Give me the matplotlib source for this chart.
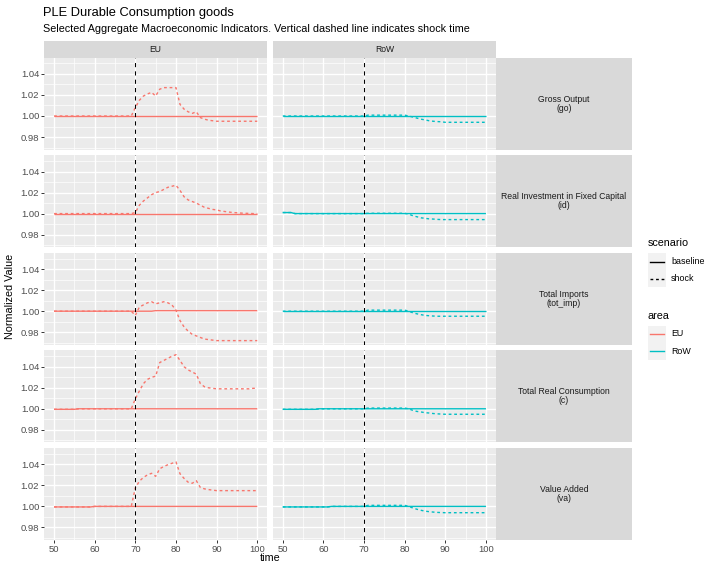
import matplotlib
matplotlib.use("Agg")
import matplotlib.pyplot as plt
import numpy as np

plt.rcParams['font.family'] = ['Liberation Sans', 'DejaVu Sans']

# ---- data (t = 50 .. 100) ----
time = list(range(50, 101))

areas = ["EU", "RoW"]
indicators = ["go", "id", "tot_imp", "c", "va"]
indicator_labels = ["Gross Output\n(go)",
                    "Real Investment in Fixed Capital\n(id)",
                    "Total Imports\n(tot_imp)",
                    "Total Real Consumption\n(c)",
                    "Value Added\n(va)"]
shock_time = 70

eu_go_base = [1.000] * 51
eu_go_shock = ([1.000] * 20
               + [1.008, 1.015, 1.019, 1.021, 1.0225, 1.019, 1.0255, 1.027, 1.027, 1.027, 1.027]
               + [1.011, 1.0065, 1.004, 1.0025, 1.004, 0.9985, 0.997, 0.996, 0.9955]
               + [0.995] * 11)

eu_id_base = [1.000] * 51
eu_id_shock = ([1.000] * 20
               + [1.001, 1.008, 1.012, 1.015, 1.018, 1.020, 1.021, 1.023, 1.025, 1.026, 1.027]
               + [1.022, 1.016, 1.013, 1.0115, 1.010, 1.008, 1.006, 1.005, 1.004, 1.0035,
                  1.0025, 1.002, 1.0015, 1.001, 1.0008, 1.0005, 1.0003, 1.0002, 1.000, 1.000])

eu_imp_base = [1.000] * 25 + [1.0005] * 26
eu_imp_shock = ([1.000] * 20
                + [0.996, 1.004, 1.006, 1.008, 1.009, 1.007, 1.008, 1.009, 1.008, 1.006, 1.001]
                + [0.991, 0.985, 0.981, 0.978, 0.9765, 0.975, 0.9735, 0.973, 0.9725]
                + [0.972] * 11)

eu_c_base = [0.9995] * 6 + [1.000] * 45
eu_c_shock = ([0.9995] * 6 + [1.000] * 14
              + [1.0095, 1.017, 1.024, 1.028, 1.030, 1.031, 1.044, 1.046, 1.048, 1.050, 1.0515]
              + [1.046, 1.040, 1.037, 1.035, 1.033, 1.024, 1.021, 1.020, 1.0195]
              + [1.019] * 9 + [1.0195] * 2)

eu_va_base = [0.9995] * 10 + [1.000] * 41
eu_va_shock = ([0.9995] * 10 + [1.000] * 10
               + [1.0177, 1.024, 1.0276, 1.030, 1.0315, 1.0286, 1.0358, 1.038, 1.0396, 1.041, 1.0424]
               + [1.031, 1.0266, 1.023, 1.022, 1.0245, 1.018, 1.0167, 1.016, 1.0155]
               + [1.015] * 11)

row_go_base = [1.000] * 51
row_go_shock = ([1.000] * 21 + [1.0008] * 10
                + [1.000, 0.999, 0.998, 0.997, 0.9963, 0.9955, 0.995, 0.9947, 0.9945]
                + [0.994] * 11)

row_id_base = [1.001] * 3 + [1.000] * 48
row_id_shock = ([1.001] * 3 + [1.000] * 18 + [1.0003] * 10
                + [0.9995, 0.998, 0.997, 0.996, 0.9955, 0.995, 0.9948, 0.9945]
                + [0.9943] * 12)

row_imp_base = [1.000] * 51
row_imp_shock = ([1.000] * 21 + [1.001] * 10
                 + [1.000, 0.9985, 0.9975, 0.9967, 0.996, 0.9957, 0.9954]
                 + [0.9952] * 13)

row_c_base = [0.9995] * 9 + [1.000] * 42
row_c_shock = ([0.9995] * 9 + [1.000] * 12 + [1.0007] * 10
               + [1.000, 0.9985, 0.9975, 0.997, 0.9963, 0.996, 0.9955, 0.9952, 0.995]
               + [0.9948] * 11)

row_va_base = [0.9995] * 12 + [1.000] * 39
row_va_shock = ([0.9995] * 12 + [1.000] * 9 + [1.001] * 10
                + [1.000, 0.9985, 0.9973, 0.9963, 0.9955, 0.995, 0.9946, 0.9943, 0.9941]
                + [0.994] * 11)

series = {
    ("EU", "go"): (eu_go_base, eu_go_shock),
    ("EU", "id"): (eu_id_base, eu_id_shock),
    ("EU", "tot_imp"): (eu_imp_base, eu_imp_shock),
    ("EU", "c"): (eu_c_base, eu_c_shock),
    ("EU", "va"): (eu_va_base, eu_va_shock),
    ("RoW", "go"): (row_go_base, row_go_shock),
    ("RoW", "id"): (row_id_base, row_id_shock),
    ("RoW", "tot_imp"): (row_imp_base, row_imp_shock),
    ("RoW", "c"): (row_c_base, row_c_shock),
    ("RoW", "va"): (row_va_base, row_va_shock),
}

# ---- style ----
colors = {"EU": "#F8766D", "RoW": "#00BFC4"}
PANEL_BG = "#EBEBEB"
STRIP_BG = "#D9D9D9"
W, H = 706, 565
LW = 1.0
TICK_FS = 6.8

allv = np.concatenate([np.array(v) for pair in series.values() for v in pair])
ymin, ymax = allv.min(), allv.max()
ypad = (ymax - ymin) * 0.05
ylim = (ymin - ypad, ymax + ypad)
xlim = (50 - 2.5, 100 + 2.5)

fig = plt.figure(figsize=(W / 100, H / 100), dpi=100)
fig.patch.set_facecolor("white")


def rect(x0, y0, x1, y1):
    return [x0 / W, 1 - y1 / H, (x1 - x0) / W, (y1 - y0) / H]


col_x = [(43.9, 267.4), (272.6, 496.1)]
row_top, row_h, row_pitch = 57.7, 91.9, 97.6
strip_right = (496.1, 631.7)

for ci, area in enumerate(areas):
    x0, x1 = col_x[ci]
    # top strip
    sax = fig.add_axes(rect(x0, 40.7, x1, row_top))
    sax.set_facecolor(STRIP_BG)
    sax.set_xticks([]); sax.set_yticks([])
    for s in sax.spines.values():
        s.set_visible(False)
    sax.text(0.5, 0.5, area, ha="center", va="center", fontsize=6.2, color="#1A1A1A",
             transform=sax.transAxes)

    for ri, ind in enumerate(indicators):
        y0 = row_top + ri * row_pitch
        ax = fig.add_axes(rect(x0, y0, x1, y0 + row_h))
        ax.set_facecolor(PANEL_BG)
        for s in ax.spines.values():
            s.set_visible(False)
        ax.set_xlim(*xlim)
        ax.set_ylim(*ylim)
        ax.set_xticks([50, 60, 70, 80, 90, 100])
        ax.set_xticks([55, 65, 75, 85, 95], minor=True)
        ax.set_yticks([0.98, 1.00, 1.02, 1.04])
        ax.set_yticks([0.97, 0.99, 1.01, 1.03, 1.05], minor=True)
        ax.grid(which="major", color="white", lw=1.0)
        ax.grid(which="minor", color="white", lw=0.5)
        ax.set_axisbelow(True)
        ax.tick_params(which="minor", length=0)
        ax.tick_params(which="major", length=1.9, width=0.7, color="#333333",
                       labelsize=TICK_FS, labelcolor="#4D4D4D", pad=1.5)
        if ci == 0:
            ax.set_yticklabels(["0.98", "1.00", "1.02", "1.04"])
        else:
            ax.tick_params(axis="y", length=0, labelleft=False)
        if ri == len(indicators) - 1:
            ax.set_xticklabels([str(v) for v in [50, 60, 70, 80, 90, 100]])
        else:
            ax.tick_params(axis="x", length=0, labelbottom=False)

        base, shock = series[(area, ind)]
        ax.plot(time, base, color=colors[area], lw=LW, solid_capstyle="butt")
        ax.plot(time, shock, color=colors[area], lw=LW, linestyle=(0, (2, 2)))
        ax.axvline(shock_time, color="black", lw=0.75, linestyle=(0, (4, 4)))

        if ci == 1:
            rax = fig.add_axes(rect(strip_right[0], y0, strip_right[1], y0 + row_h))
            rax.set_facecolor(STRIP_BG)
            rax.set_xticks([]); rax.set_yticks([])
            for s in rax.spines.values():
                s.set_visible(False)
            rax.text(0.5, 0.5, indicator_labels[ri], ha="center", va="center",
                     fontsize=6.2, color="#1A1A1A", linespacing=1.0,
                     transform=rax.transAxes)

# titles and axis labels
fig.text(43 / W, 1 - 13 / H, "PLE Durable Consumption goods", fontsize=9.3,
         ha="left", va="center", color="black")
fig.text(43 / W, 1 - 29 / H,
         "Selected Aggregate Macroeconomic Indicators. Vertical dashed line indicates shock time",
         fontsize=7.75, ha="left", va="center", color="black")
fig.text(10 / W, 1 - 296 / H, "Normalized Value", rotation=90, fontsize=7.75,
         ha="center", va="center")
fig.text(270 / W, 1 - 558 / H, "time", fontsize=7.75, ha="center", va="center")

# legends
lax = fig.add_axes([0, 0, 1, 1], facecolor="none")
lax.set_xlim(0, W)
lax.set_ylim(H, 0)
lax.axis("off")

kx0, kw, kh = 648, 17.5, 17
lax.text(kx0, 243, "scenario", fontsize=7.75, ha="left", va="center")
for i, (lab, ls) in enumerate([("baseline", "-"), ("shock", (0, (2, 2)))]):
    ky = 253 + i * kh
    lax.add_patch(plt.Rectangle((kx0, ky), kw, kh, facecolor="#F2F2F2", edgecolor="none"))
    lax.plot([kx0 + 2, kx0 + kw - 2], [ky + kh / 2] * 2, color="black", lw=LW, linestyle=ls)
    lax.text(kx0 + kw + 5.5, ky + kh / 2, lab, fontsize=6.4, ha="left", va="center")

lax.text(kx0, 316, "area", fontsize=7.75, ha="left", va="center")
for i, area in enumerate(areas):
    ky = 325.5 + i * kh
    lax.add_patch(plt.Rectangle((kx0, ky), kw, kh, facecolor="#F2F2F2", edgecolor="none"))
    lax.plot([kx0 + 2, kx0 + kw - 2], [ky + kh / 2] * 2, color=colors[area], lw=LW)
    lax.text(kx0 + kw + 5.5, ky + kh / 2, area, fontsize=6.4, ha="left", va="center")

fig.savefig("out.png", dpi=100)
